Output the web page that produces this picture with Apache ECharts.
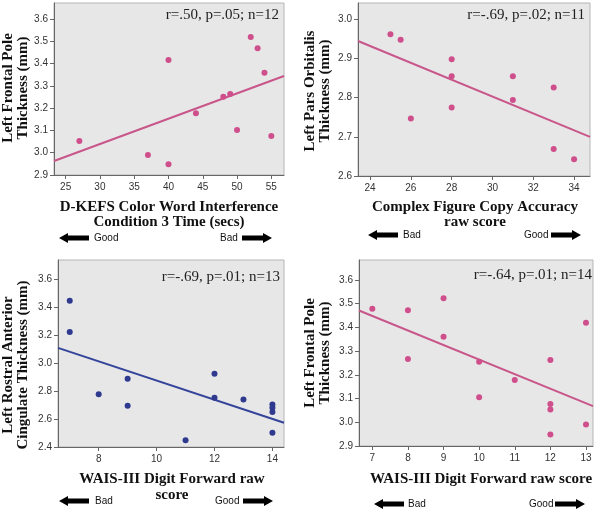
<!DOCTYPE html>
<html>
<head>
<meta charset="utf-8">
<script src="https://cdn.jsdelivr.net/npm/echarts@6/dist/echarts.min.js"></script>
<style>
  html, body { margin: 0; padding: 0; background: #fff; }
  #chart { width: 600px; height: 510px; }
</style>
</head>
<body>
<div id="chart"></div>
<script>
// panel 1: D-KEFS vs left frontal pole
var p1X = [27, 37, 40, 40, 44, 48, 49, 50, 52, 53, 54, 55]
var p1Y = [3.053, 2.99, 3.417, 2.948, 3.177, 3.252, 3.264, 3.102, 3.52, 3.47, 3.359, 3.075]
var p1Fit = [[23.3, 2.963], [56.85, 3.345]]
var p1XTicks = [25, 30, 35, 40, 45, 50, 55]
var p1YTicks = [2.9, 3.0, 3.1, 3.2, 3.3, 3.4, 3.5, 3.6]

// panel 2: complex figure vs pars orbitalis
var p2X = [25, 25.5, 26, 28, 28, 28, 31, 31, 33, 33, 34]
var p2Y = [2.962, 2.948, 2.747, 2.898, 2.855, 2.775, 2.855, 2.794, 2.826, 2.669, 2.643]
var p2Fit = [[23.41, 2.945], [34.78, 2.70]]
var p2XTicks = [24, 26, 28, 30, 32, 34]
var p2YTicks = [2.6, 2.7, 2.8, 2.9, 3.0]

// panel 3: digit forward vs rostral anterior cingulate
var p3X = [7, 7, 8, 9, 9, 11, 12, 12, 13, 14, 14, 14, 14]
var p3Y = [3.447, 3.224, 2.777, 2.889, 2.696, 2.448, 2.925, 2.753, 2.741, 2.705, 2.681, 2.65, 2.502]
var p3Fit = [[6.595, 3.11], [14.40, 2.574]]
var p3XTicks = [8, 10, 12, 14]
var p3YTicks = [2.4, 2.6, 2.8, 3.0, 3.2, 3.4, 3.6]

// panel 4: digit forward vs frontal pole
var p4X = [7, 8, 8, 9, 9, 10, 10, 11, 12, 12, 12, 12, 13, 13]
var p4Y = [3.479, 3.472, 3.267, 3.523, 3.361, 3.255, 3.105, 3.178, 3.262, 3.077, 3.054, 2.949, 3.42, 2.991]
var p4Fit = [[6.626, 3.471], [13.197, 3.068]]
var p4XTicks = [7, 8, 9, 10, 11, 12, 13]
var p4YTicks = [2.9, 3.0, 3.1, 3.2, 3.3, 3.4, 3.5, 3.6]

var PINK = '#cf4f8c'
var PINK_LINE = '#c9568a'
var BLUE = '#2f3a8f'
var BLUE_LINE = '#34449a'
var SERIF = '"Liberation Serif", "DejaVu Serif", serif'
var SANS = '"Liberation Sans", Arial, sans-serif'

function zip (xs, ys) {
  var out = []
  for (var i = 0; i < xs.length; i++) out.push([xs[i], ys[i]])
  return out
}

var panels = [
  { grid: { left: 54, top: 3, width: 230, height: 172 }, x: [23.3, 56.85], y: [2.9, 3.673], xt: p1XTicks, yt: p1YTicks, pts: zip(p1X, p1Y), fit: p1Fit, c: PINK, lc: PINK_LINE },
  { grid: { left: 358, top: 3, width: 232, height: 173 }, x: [23.41, 34.78], y: [2.6, 3.042], xt: p2XTicks, yt: p2YTicks, pts: zip(p2X, p2Y), fit: p2Fit, c: PINK, lc: PINK_LINE },
  { grid: { left: 58, top: 260, width: 226, height: 187 }, x: [6.595, 14.40], y: [2.4, 3.739], xt: p3XTicks, yt: p3YTicks, pts: zip(p3X, p3Y), fit: p3Fit, c: BLUE, lc: BLUE_LINE },
  { grid: { left: 359, top: 260, width: 234, height: 186 }, x: [6.626, 13.197], y: [2.9, 3.684], xt: p4XTicks, yt: p4YTicks, pts: zip(p4X, p4Y), fit: p4Fit, c: PINK, lc: PINK_LINE }
]

var grids = []
var xAxes = []
var yAxes = []
var series = []

panels.forEach(function (p, i) {
  grids.push(Object.assign({
    show: true,
    backgroundColor: '#e7e7e7',
    borderColor: '#b5b5b5',
    borderWidth: 1
  }, p.grid))
  xAxes.push({
    gridIndex: i,
    type: 'value',
    min: p.x[0],
    max: p.x[1],
    splitLine: { show: false },
    axisLine: { onZero: false, lineStyle: { color: '#666', width: 1 } },
    axisTick: { show: true, length: 4, customValues: p.xt, lineStyle: { color: '#666' } },
    axisLabel: { customValues: p.xt, margin: 7, color: '#333', fontSize: 10, fontFamily: SANS, showMinLabel: true, showMaxLabel: true }
  })
  yAxes.push({
    gridIndex: i,
    type: 'value',
    min: p.y[0],
    max: p.y[1],
    splitLine: { show: false },
    axisLine: { show: true, onZero: false, lineStyle: { color: '#666', width: 1 } },
    axisTick: { show: true, length: 4, customValues: p.yt, lineStyle: { color: '#666' } },
    axisLabel: {
      customValues: p.yt,
      margin: 6,
      color: '#333',
      fontSize: 10,
      fontFamily: SANS,
      formatter: function (v) { return Number(v).toFixed(1) }
    }
  })
  series.push({
    type: 'line',
    xAxisIndex: i,
    yAxisIndex: i,
    data: p.fit,
    symbol: 'none',
    silent: true,
    lineStyle: { color: p.lc, width: 2 },
    z: 2
  })
  series.push({
    type: 'scatter',
    xAxisIndex: i,
    yAxisIndex: i,
    data: p.pts,
    symbolSize: 6,
    itemStyle: { color: p.c, opacity: 1 },
    z: 3
  })
})

function statText (right, y, txt) {
  return {
    type: 'text',
    x: right,
    y: y,
    style: { text: txt, fill: '#222', font: '15px ' + SERIF, align: 'right', verticalAlign: 'middle' },
    z: 10
  }
}

function xTitle (cx, y, txt) {
  return {
    type: 'text',
    x: cx,
    y: y,
    style: { text: txt, fill: '#111', font: 'bold 15px ' + SERIF, align: 'center', verticalAlign: 'middle', lineHeight: 15.5 },
    z: 10
  }
}

function yTitle (cx, cy, txt) {
  return {
    type: 'text',
    x: cx,
    y: cy,
    rotation: Math.PI / 2,
    style: { text: txt, fill: '#111', font: 'bold 15px ' + SERIF, align: 'center', verticalAlign: 'middle', lineHeight: 15 },
    z: 10
  }
}

// thick black arrow; dir = -1 points left, 1 points right
function arrow (x0, x1, cy, dir) {
  var head = 9
  var pts
  if (dir < 0) {
    pts = [[x0, cy], [x0 + head, cy - 5], [x0 + head, cy - 2.5], [x1, cy - 2.5], [x1, cy + 2.5], [x0 + head, cy + 2.5], [x0 + head, cy + 5]]
  } else {
    pts = [[x1, cy], [x1 - head, cy - 5], [x1 - head, cy - 2.5], [x0, cy - 2.5], [x0, cy + 2.5], [x1 - head, cy + 2.5], [x1 - head, cy + 5]]
  }
  return { type: 'polygon', shape: { points: pts }, style: { fill: '#000' }, z: 10 }
}

function word (x, y, txt) {
  return {
    type: 'text',
    x: x,
    y: y,
    style: { text: txt, fill: '#111', font: '10px ' + SANS, align: 'left', verticalAlign: 'middle' },
    z: 10
  }
}

var graphics = [
  statText(279, 15, 'r=.50, p=.05; n=12'),
  statText(585, 15, 'r=-.69, p=.02; n=11'),
  statText(280, 277, 'r=-.69, p=.01; n=13'),
  statText(592, 275, 'r=-.64, p=.01; n=14'),

  xTitle(169, 214.5, 'D-KEFS Color Word Interference\nCondition 3 Time (secs)'),
  xTitle(475, 214.5, 'Complex Figure Copy Accuracy\nraw score'),
  xTitle(172, 487, 'WAIS-III Digit Forward raw\nscore'),
  xTitle(481, 479.5, 'WAIS-III Digit Forward raw score'),

  yTitle(16, 88, 'Left Frontal Pole\nThickness (mm)'),
  yTitle(317.5, 91, 'Left Pars Orbitalis\nThickness (mm)'),
  yTitle(16, 365, 'Left Rostral Anterior\nCingulate Thickness (mm)'),
  yTitle(317.5, 353, 'Left Frontal Pole\nThickness (mm)'),

  arrow(59, 89, 238, -1), word(94, 238, 'Good'),
  word(220, 238, 'Bad'), arrow(242, 272, 238, 1),

  arrow(368, 398, 235, -1), word(403, 235, 'Bad'),
  word(524, 235, 'Good'), arrow(551, 581, 235, 1),

  arrow(59, 89, 501, -1), word(95, 501, 'Bad'),
  word(215, 501, 'Good'), arrow(243, 273, 501, 1),

  arrow(374, 404, 504, -1), word(408, 504, 'Bad'),
  word(529, 504, 'Good'), arrow(555, 585, 504, 1)
]

var oChart = echarts.init(document.getElementById('chart'), null, { renderer: 'canvas' })
oChart.setOption({
  backgroundColor: '#fff',
  animation: false,
  grid: grids,
  xAxis: xAxes,
  yAxis: yAxes,
  series: series,
  graphic: graphics
})
</script>
</body>
</html>
